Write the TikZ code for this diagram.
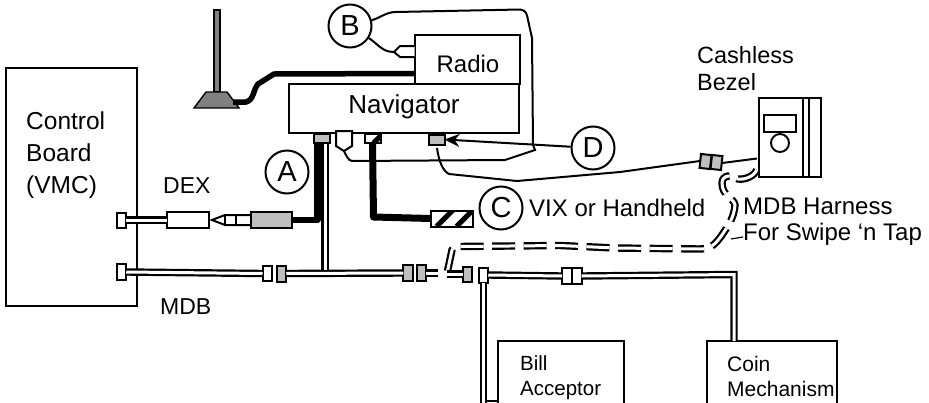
\documentclass[tikz,border=0pt]{standalone}
\usepackage{fontspec}
\setmainfont{Liberation Sans}
\usetikzlibrary{arrows.meta}

\definecolor{plugfill}{gray}{0.75}
\definecolor{antfill}{gray}{0.5}

\tikzset{
  box/.style={draw, line width=2pt, inner sep=0pt, outer sep=0pt, fill=white},
  plug/.style={box, minimum width=#1},
  plug/.default=9.5pt,
  greyplug/.style={plug=#1, fill=plugfill},
  greyplug/.default=9.5pt,
  lettered/.style={draw, circle, line width=2pt, minimum size=43pt, inner sep=0pt, fill=white,
    font=\fontsize{29}{29}\selectfont},
  cable/.style={draw, line width=2.2pt, double=white, double distance=3pt},
  blackcable/.style={line width=6.5pt, line join=round},
  wire/.style={line width=2pt},
  lbl/.style={inner sep=0pt, align=left, font=\fontsize{#1}{#1}\selectfont},
}

\begin{document}
\begin{tikzpicture}[x=1pt, y=-1pt]
    \clip (0,0) rectangle (929,402);

    % boxes
    \node[box, minimum width=131pt, minimum height=238pt] (board) at (71.5,187) {};
    \node[box, minimum width=105pt, minimum height=49pt] (radio) at (467,59.5) {};
    \node[box, minimum width=230pt, minimum height=49pt] (navigator) at (404,108.5) {};
    \node[box, minimum width=126pt, minimum height=70pt] (bill) at (561,376) {};
    \node[box, minimum width=130pt, minimum height=70pt] (coin) at (772,376) {};

    % texts
    \node[anchor=west, lbl=24, font=\fontsize{24.5}{32}\selectfont] (boardtext) at (26,155) {Control\\Board\\(VMC)};
    \node[lbl=24] (radiotext) at (468,64) {Radio};
    \node[lbl=26] (navtext) at (404,107) {Navigator};
    \node[lbl=23, anchor=west] (dextext) at (163,186) {DEX};
    \node[lbl=23, anchor=west] (mdbtext) at (160,307) {MDB};
    \node[lbl=24, anchor=west] (vixtext) at (529,208) {VIX or Handheld};
    \node[anchor=west, lbl=24, font=\fontsize{23.5}{27}\selectfont] (bezeltext) at (697,68.5) {Cashless\\Bezel};
    \node[anchor=west, lbl=24, font=\fontsize{24}{26}\selectfont] (harnesstext) at (743,222) {MDB Harness\\For Swipe ‘n Tap};
    \node[anchor=west, lbl=21, font=\fontsize{20.5}{25}\selectfont] (billtext) at (520,378) {Bill\\Acceptor};
    \node[anchor=west, lbl=21, font=\fontsize{21}{25}\selectfont] (cointext) at (727,376.5) {Coin\\Mechanism};

    % letters
    \node[lettered] (A) at (287,172) {A};
    \node[lettered] (B) at (350,26) {B};
    \node[lettered] (C) at (501,208) {C};
    \node[lettered] (D) at (593,148) {D};

    % plugs under the navigator
    \node[greyplug=16pt, minimum height=9pt] (navA) at (321.5,138.5) {};
    \node[plug=16pt, minimum height=9pt, path picture={\draw[line width=5pt] ([xshift=9pt]path picture bounding box.south west) -- ++(12,-12);}] (navC) at (372.5,138.5) {};
    \node[greyplug=16pt, minimum height=10pt] (navD) at (436.5,139.5) {};
    \node[plug=42pt, minimum height=16pt, path picture={\draw[line width=5pt] ([xshift=6pt]path picture bounding box.south west) -- ++(20,-20) ([xshift=26pt]path picture bounding box.south west) -- ++(20,-20);}] (plugC) at (451.5,218.5) {};
    \coordinate (pentA) at (344,151);
    \draw[wire, fill=white] (336,131) -- (352,131) -- (352,146) -- (pentA) -- (336,146) -- cycle;

    % antenna
    \coordinate (antout) at (233,102);
    \draw[line width=1.4pt, fill=antfill] (214,10) rectangle (220,92);
    \draw[line width=1.4pt, fill=antfill] (194,108) -- (206,92) -- (227,92) -- (239,108) -- cycle;
    \draw[line width=5.5pt, line join=round] (antout) -- (246,102) .. controls (254,100) and (253,90) .. (258,84) -- (274,74) -- (radio.west |- 0,73.5);

    % B wires
    \coordinate (radioplug) at (394,52);
    \draw[wire, fill=white] (radio.west |- 0,46) -- (400,46) -- (radioplug) -- (400,57) -- (radio.west |- 0,57);
    \draw[wire] (B) .. controls (378,44) and (382,52) .. (radioplug);
    \draw[wire] (B) .. controls (380,18) and (386,12) .. (396,12) -- (520,9.5) .. controls (526,10) and (527,14) .. (528,20) -- (532,38) -- (533,145) -- (535,150) -- (505,160) -- (352,161) .. controls (348,160) and (347,157) .. (pentA);

    % D arrow and wire to bezel
    \draw[line width=2pt, -{Stealth[length=15pt,width=13pt]}] (D) -- (navD.east);

    % bezel
    \node[box, line width=2.8pt, minimum width=62pt, minimum height=79pt] (bezel) at (790,137.5) {};
    \draw[line width=2.6pt] (803,98) -- (803,177) (809,98) -- (809,177);
    \node[box, minimum width=32pt, minimum height=17pt] (screen) at (780,123.5) {};
    \node[draw, circle, line width=1.9pt, minimum size=18pt, inner sep=0pt] (reader) at (780,143) {};
    \node[greyplug=10.5pt, minimum height=14pt, rotate=-6] (bezelL) at (705.5,161.5) {};
    \node[greyplug=10.5pt, minimum height=14pt, rotate=-6] (bezelR) at (716.5,162.5) {};
    \coordinate (bezelin) at (757,158.5);
    \draw[wire] (bezelR.east) -- (bezelin);
    \draw[wire] (437,148) .. controls (439,162) and (443,171) .. (449,174) -- (517,181) -- (620,172) -- (bezelL.west);

    % harness to bezel
    \coordinate (harA) at (447.5,271);
    \coordinate (harB) at (757,169);
    \coordinate (harC) at (731,239);
    \draw[cable, dash pattern=on 23pt off 8.5pt] (harA) -- (452,250) .. controls (452,248) and (454,247) .. (458,246.5) -- (560,245.5) -- (615,248) -- (700,249) .. controls (712,249) and (716,243) .. (722,235) .. controls (728,226) and (734,218) .. (735,205) .. controls (734,198) and (722,196) .. (722,183) .. controls (722,175) and (732,174) .. (738,179) .. controls (745,180) and (755,176) .. (harB);
    \draw[line width=1.2pt] (harC) -- (harnesstext.west |- 0,237);

    % DEX
    \node[plug, minimum height=15pt] (dexL) at (121.5,220) {};
    \node[box, minimum width=42pt, minimum height=16pt] (dexbox) at (187.5,220) {};
    \node[greyplug=41pt, minimum height=16pt] (dexgrey) at (271,220) {};
    \draw[cable] (dexL.east) -- (dexbox.west);
    \draw[wire] (dexgrey.west |- 0,215) -- (225,215) -- (212,220) -- (225,225) -- (dexgrey.west |- 0,225);
    \draw[wire] (225,215) -- (225,225) (236,215) -- (236,225);

    % A and C cables
    \draw[blackcable] (navA.south -| 317.5,0) -- (317.5,220) -- (dexgrey.east);
    \draw[blackcable, line width=7pt] (navC.south) -- (373.5,217) -- (plugC.west);

    % MDB line
    \node[plug, minimum height=16pt] (mdbL) at (121.5,272) {};
    \node[plug=9pt, minimum height=15pt] (mdbW) at (267,273.5) {};
    \node[greyplug, minimum height=16pt] (mdbG) at (281.5,273.5) {};
    \node[greyplug, minimum height=16pt] (mdbH) at (408,273) {};
    \node[greyplug, minimum height=16pt] (mdbI) at (421.5,273) {};
    \node[greyplug, minimum height=15pt] (mdbJ) at (467.5,274) {};
    \node[plug, minimum height=15pt] (mdbK) at (483.5,275) {};
    \node[plug=10pt, minimum height=16pt] (mdbM) at (567,276) {};
    \node[plug=10pt, minimum height=16pt] (mdbN) at (576.5,276) {};
    \coordinate (breakL) at (438,273);
    \coordinate (breakR) at (447,274);
    \coordinate (coinjoin) at (734,274.5);
    \coordinate (billend) at (483.5,405);
    \draw[cable] (mdbL.east) -- (mdbW.west);
    \draw[cable] (mdbG.east) -- (mdbH.west);
    \draw[cable] (mdbI.east) -- (breakL);
    \draw[cable] (breakR) -- (mdbJ.west);
    \draw[cable] (mdbK.east) -- (mdbM.west);
    \draw[cable] (mdbN.east) -- (coinjoin) -- (coinjoin |- coin.north);
    \draw[cable] (mdbK.south) -- (billend);
    \draw[cable] (325,144) -- (325,270);
    \draw[wire] (486,401) -- (bill.west |- 0,401);
\end{tikzpicture}
\end{document}
